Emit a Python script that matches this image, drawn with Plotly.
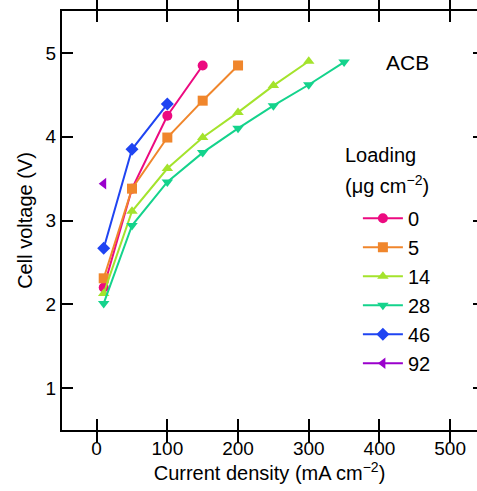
import plotly.graph_objects as go

loadings = ["0", "5", "14", "28", "46", "92"]
colors = ["#EC0A80", "#F0862C", "#A4E32C", "#14D38C", "#1F44F2", "#9A00CC"]
symbols = ["circle", "square", "triangle-up", "triangle-down", "diamond", "triangle-left"]

x_0 = [10, 50, 100, 150]
y_0 = [2.20, 3.38, 4.25, 4.85]
x_5 = [10, 50, 100, 150, 200]
y_5 = [2.31, 3.38, 3.99, 4.43, 4.85]
x_14 = [10, 50, 100, 150, 200, 250, 300]
y_14 = [2.13, 3.11, 3.62, 3.99, 4.29, 4.61, 4.90]
x_28 = [10, 50, 100, 150, 200, 250, 300, 350]
y_28 = [2.01, 2.94, 3.46, 3.81, 4.10, 4.37, 4.62, 4.89]
x_46 = [10, 50, 100]
y_46 = [2.67, 3.85, 4.39]
x_92 = [10]
y_92 = [3.44]

xs = [x_0, x_5, x_14, x_28, x_46, x_92]
ys = [y_0, y_5, y_14, y_28, y_46, y_92]

x_ticks = [0, 100, 200, 300, 400, 500]
y_ticks = [1, 2, 3, 4, 5]
x_range = [-49, 538]
y_range = [0.5, 5.5]

fig = go.Figure()
for name, c, s, x, y in zip(loadings, colors, symbols, xs, ys):
    fig.add_trace(go.Scatter(
        x=x, y=y, name=name, mode="lines+markers",
        line=dict(color=c, width=2),
        marker=dict(color=c, symbol=s, size=10, line=dict(width=0)),
    ))

font = "Liberation Sans, Arial, sans-serif"
tick_common = dict(
    showgrid=False, zeroline=False, ticks="inside", ticklen=11, tickwidth=2, tickcolor="black",
    tickfont=dict(size=19, color="black", family=font),
)
fig.update_xaxes(range=x_range, tickvals=x_ticks, showline=True, linecolor="black",
                 linewidth=2, mirror="allticks",
                 title=dict(text="Current density (mA cm<sup>\u22122</sup>)",
                            font=dict(size=20, color="black", family=font), standoff=4),
                 **tick_common)
fig.update_yaxes(range=y_range, tickvals=y_ticks, showline=True, linecolor="black",
                 linewidth=2, mirror=False,
                 title=dict(text="Cell voltage (V)",
                            font=dict(size=20, color="black", family=font), standoff=8),
                 **tick_common)

fig.update_layout(
    yaxis2=dict(overlaying="y", side="right", range=y_range, tickvals=y_ticks,
                showline=False, showgrid=False, zeroline=False, showticklabels=False,
                ticks="inside", ticklen=4, tickwidth=2, tickcolor="black"),
)
# invisible helper trace so the right-side tick axis is rendered
fig.add_trace(go.Scatter(x=[x_0[0]], y=[y_0[0]], yaxis="y2", mode="markers",
                         marker=dict(opacity=0), showlegend=False, hoverinfo="skip"))

fig.add_annotation(text="ACB", xref="paper", yref="paper", x=0.833, y=0.876,
                   xanchor="center", yanchor="middle", showarrow=False,
                   font=dict(size=21, color="black", family=font))
fig.add_annotation(text="Loading", xref="paper", yref="paper", x=0.676, y=0.656,
                   xanchor="left", yanchor="middle", showarrow=False,
                   font=dict(size=20, color="black", family=font))
fig.add_annotation(text="(\u03bcg cm<sup>\u22122</sup>)", xref="paper", yref="paper",
                   x=0.676, y=0.585, xanchor="left", yanchor="middle", showarrow=False,
                   font=dict(size=20, color="black", family=font))

fig.update_layout(
    width=477, height=491,
    margin=dict(l=62, r=0, t=11, b=61),
    paper_bgcolor="white", plot_bgcolor="white",
    font=dict(family=font, color="black"),
    legend=dict(
        x=0.713, y=0.552, xanchor="left", yanchor="top",
        bgcolor="rgba(0,0,0,0)",
        font=dict(size=20, family=font, color="black"),
        itemwidth=40, tracegroupgap=0,
    ),
)

fig.write_html("out.html")
